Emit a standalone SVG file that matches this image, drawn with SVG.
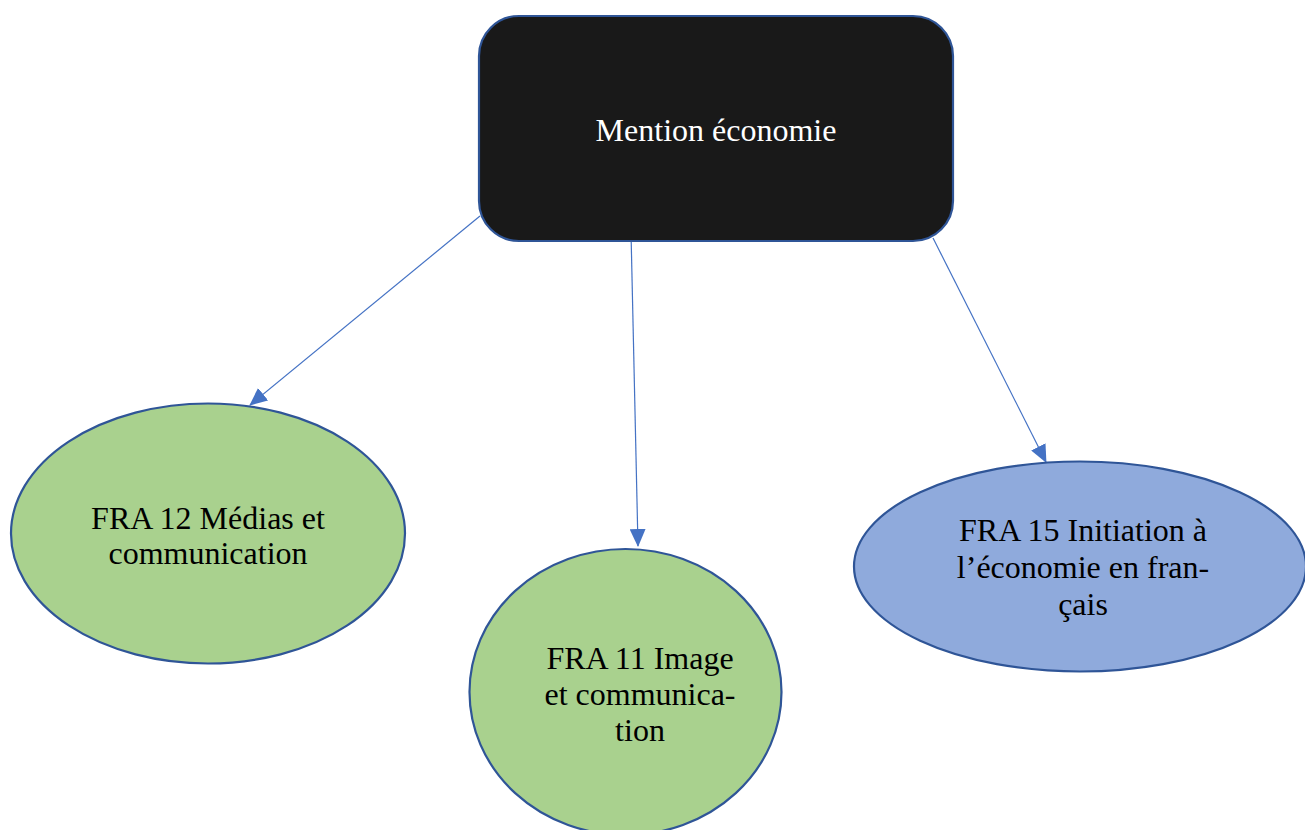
<svg xmlns="http://www.w3.org/2000/svg" width="1305" height="830" viewBox="0 0 1305 830">
<style>
.lbl{font-family:"Liberation Serif","Times New Roman",serif;font-size:32px;text-anchor:middle}
.node{stroke:#2F5597;stroke-width:2.2}
.conn{stroke:#4472C4;stroke-width:1.2;fill:none}
</style>
<defs>
<marker id="arr" markerUnits="userSpaceOnUse" markerWidth="18" markerHeight="16" viewBox="0 0 18 16" refX="17" refY="8" orient="auto">
<path d="M0,0 L18,8 L0,16 Z" fill="#4472C4"/>
</marker>
</defs>
<rect width="1305" height="830" fill="#ffffff"/>
<g id="connectors">
<line class="conn" x1="480" y1="216" x2="250" y2="405" marker-end="url(#arr)"/>
<line class="conn" x1="631" y1="232" x2="638" y2="546" marker-end="url(#arr)"/>
<line class="conn" x1="933" y1="238" x2="1046" y2="462" marker-end="url(#arr)"/>
</g>
<g id="mention">
<rect class="node" x="479" y="16" width="474" height="225" rx="40" ry="40" fill="#191919"/>
<text class="lbl" x="716" y="141" fill="#ffffff">Mention économie</text>
</g>
<g id="fra12">
<ellipse class="node" cx="208" cy="533.5" rx="197" ry="130" fill="#A9D18E"/>
<text class="lbl" x="208" y="529" fill="#000">FRA 12 Médias et</text>
<text class="lbl" x="208" y="564" fill="#000">communication</text>
</g>
<g id="fra11">
<ellipse class="node" cx="625.5" cy="692" rx="156" ry="143" fill="#A9D18E"/>
<text class="lbl" x="640" y="669" fill="#000">FRA 11 Image</text>
<text class="lbl" x="640" y="705" fill="#000">et communica-</text>
<text class="lbl" x="640" y="741" fill="#000">tion</text>
</g>
<g id="fra15">
<ellipse class="node" cx="1080" cy="566.5" rx="226" ry="105" fill="#8FAADC"/>
<text class="lbl" x="1083" y="541" fill="#000">FRA 15 Initiation à</text>
<text class="lbl" x="1083" y="578" fill="#000">l’économie en fran-</text>
<text class="lbl" x="1083" y="615" fill="#000">çais</text>
</g>
</svg>
